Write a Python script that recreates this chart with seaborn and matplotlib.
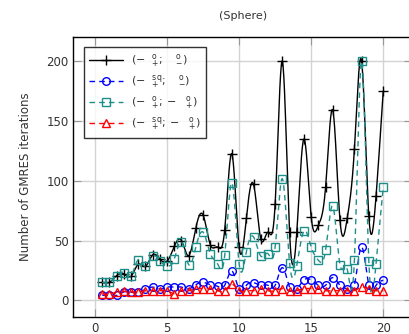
import numpy as np
import pandas as pd
import seaborn as sns
import matplotlib
matplotlib.use("Agg")
import matplotlib.pyplot as plt
from matplotlib.lines import Line2D

# data
x = [0.5, 1.0, 1.5, 2.0, 2.5, 3.0, 3.5, 4.0, 4.5, 5.0,
     5.5, 6.0, 6.5, 7.0, 7.5, 8.0, 8.5, 9.0, 9.5, 10.0,
     10.5, 11.0, 11.5, 12.0, 12.5, 13.0, 13.5, 14.0, 14.5, 15.0,
     15.5, 16.0, 16.5, 17.0, 17.5, 18.0, 18.5, 19.0, 19.5, 20.0]
black = [15, 15, 20.6, 22, 20, 30, 28.4, 38, 34.5, 32.6,
         45, 50, 37.3, 60.7, 71.3, 46.5, 44.6, 59, 122.5, 44.6,
         68.5, 97, 51.5, 57, 80.8, 200, 56.8, 56.8, 135, 70,
         62.7, 94.7, 159, 67, 68.5, 126.7, 200, 70.5, 87, 175]
blue = [4.2, 4, 4, 7, 6.7, 7, 9, 11, 9.5, 11,
        11, 11, 9.5, 13, 15, 13, 11.7, 12.5, 24.5, 9,
        12.5, 14.8, 12.5, 12.5, 12.5, 27.3, 11, 9, 17, 17,
        12.5, 12.5, 19, 12.5, 9, 12.5, 44.6, 12.5, 12.5, 16.7]
teal = [15, 15, 20.6, 23, 20, 34, 28.4, 37, 33, 28.7,
        34.5, 49, 29.8, 44.6, 57, 39, 30.6, 37.6, 98.3, 30.6,
        40.4, 53, 37, 39, 44.6, 101.7, 31.5, 29, 58, 44.6,
        33.4, 41.8, 78.6, 29.8, 26, 33.4, 200, 33, 30.6, 94.7]
red = [5.5, 5, 7, 7.5, 7, 7, 8, 8, 8, 8,
       5.5, 8, 8, 9.7, 9.7, 9.7, 8, 8, 13.4, 8,
       8, 8, 9.7, 8, 8, 9.7, 8, 8, 9.7, 9.7,
       9.7, 8, 8, 8, 8, 8, 11, 9.7, 8, 8]

labels = [r'$(-\ \ {}^{\mathrm{o}}_{+};\ \ \ {}^{\mathrm{o}}_{-})$',
          r'$(-\ \ {}^{\mathrm{sq}}_{+};\ \ \ {}^{\mathrm{o}}_{-})$',
          r'$(-\ \ {}^{\mathrm{o}}_{+};-\ \ {}^{\mathrm{o}}_{+})$',
          r'$(-\ \ {}^{\mathrm{sq}}_{+};-\ \ {}^{\mathrm{o}}_{+})$']


def spline_curve(xs, ys, n=20):
    # natural cubic spline through the points, for drawing the smooth line
    xs = np.asarray(xs, float)
    ys = np.asarray(ys, float)
    k = len(xs)
    h = np.diff(xs)
    A = np.zeros((k, k))
    b = np.zeros(k)
    A[0, 0] = A[-1, -1] = 1
    for i in range(1, k - 1):
        A[i, i - 1] = h[i - 1]
        A[i, i] = 2 * (h[i - 1] + h[i])
        A[i, i + 1] = h[i]
        b[i] = 3 * ((ys[i + 1] - ys[i]) / h[i] - (ys[i] - ys[i - 1]) / h[i - 1])
    c = np.linalg.solve(A, b)
    xx, yy = [], []
    for i in range(k - 1):
        t = np.linspace(0, h[i], n, endpoint=False)
        bi = (ys[i + 1] - ys[i]) / h[i] - h[i] * (2 * c[i] + c[i + 1]) / 3
        di = (c[i + 1] - c[i]) / (3 * h[i])
        xx.extend(xs[i] + t)
        yy.extend(ys[i] + bi * t + c[i] * t ** 2 + di * t ** 3)
    xx.append(xs[-1])
    yy.append(ys[-1])
    return np.array(xx), np.array(yy)


sns.set_style("whitegrid")
plt.rcParams['font.family'] = ['DejaVu Sans']
plt.rcParams['mathtext.fontset'] = 'dejavusans'

fig = plt.figure(figsize=(4.10, 3.34), dpi=100)
ax = fig.add_axes([0.179, 0.051, 0.826, 0.837])

series = [
    (black, 'black', '-', '+', 'none', 7.5),
    (blue, 'blue', (0, (4, 3)), 'o', 'none', 5.5),
    (teal, '#1f8f8a', (0, (4, 3)), 's', 'none', 5.5),
    (red, 'red', (0, (4, 3)), '^', 'none', 5.5),
]

handles = []
for (ys, col, ls, mk, mfc, ms), lab in zip(series, labels):
    cx, cy = spline_curve(x, ys)
    sns.lineplot(x=cx, y=cy, ax=ax, color=col, linestyle=ls, linewidth=1.0,
                 sort=False, estimator=None)
    sns.lineplot(x=x, y=ys, ax=ax, color=col, linestyle='', marker=mk,
                 markersize=ms, markerfacecolor=mfc, markeredgecolor=col,
                 markeredgewidth=1.0, estimator=None)
    handles.append(Line2D([0], [0], color=col, linestyle=ls, linewidth=1.0,
                          marker=mk, markersize=ms, markerfacecolor=mfc,
                          markeredgecolor=col))

ax.set_xlim(-1.5, 22)
ax.set_ylim(-14, 220)
ax.set_xticks([0, 5, 10, 15, 20])
ax.set_yticks([0, 50, 100, 150, 200])
ax.grid(True, color='#d3d3d3', linewidth=1.0)
for s in ax.spines.values():
    s.set_color('black')
    s.set_linewidth(1.0)
    s.set_visible(True)
ax.tick_params(direction='in', length=6, color='#999999', labelsize=8.5,
               labelcolor='#333333', top=True, right=True, bottom=True, left=True)

ax.set_title('(Sphere)', fontsize=8, color='#333333', pad=13)
ax.set_ylabel('Number of GMRES iterations', fontsize=8.5, color='#333333', labelpad=10)

leg = ax.legend(handles, labels, loc='upper left', bbox_to_anchor=(0.032, 0.965),
                borderaxespad=0, fontsize=8, frameon=True, fancybox=False,
                handlelength=3.0, labelspacing=0.35, borderpad=0.45,
                handletextpad=0.8)
leg.get_frame().set_edgecolor('black')
leg.get_frame().set_linewidth(1.0)
for t in leg.get_texts():
    t.set_color('#333333')

fig.savefig('out.png', dpi=100)
